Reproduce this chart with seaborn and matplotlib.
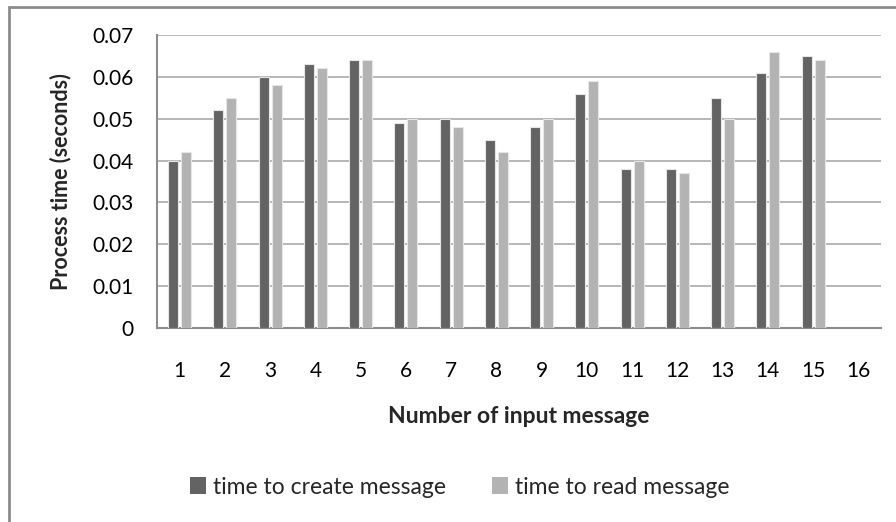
import pandas as pd
import matplotlib.pyplot as plt
import seaborn as sns
from matplotlib.patches import Rectangle

# === Data ===
messages = [str(i) for i in range(1, 17)]
create_time = [0.040, 0.052, 0.060, 0.063, 0.064, 0.049, 0.050, 0.045,
               0.048, 0.056, 0.038, 0.038, 0.055, 0.061, 0.065]
read_time = [0.042, 0.055, 0.058, 0.062, 0.064, 0.050, 0.048, 0.042,
             0.050, 0.059, 0.040, 0.037, 0.050, 0.066, 0.064]
series_names = ['time to create message', 'time to read message']
y_ticks = [0, 0.01, 0.02, 0.03, 0.04, 0.05, 0.06, 0.07]

# long-form frame for seaborn (message 16 has no measurement)
df = pd.DataFrame({
    'message': messages[:15] * 2,
    'time': create_time + read_time,
    'series': [series_names[0]] * 15 + [series_names[1]] * 15,
})

colors = ['#636363', '#b3b3b3']

sns.set_style('white')
plt.rcParams['font.family'] = ['Lato', 'DejaVu Sans']

fig = plt.figure(figsize=(8.96, 5.22), dpi=100)
ax = fig.add_axes([157 / 896, 1 - 328 / 522, (881 - 157) / 896, (328 - 35) / 522])

sns.barplot(data=df, x='message', y='time', hue='series', order=messages,
            hue_order=series_names, palette=colors, width=0.575, gap=0.23,
            edgecolor='#e6e6e6', linewidth=0.8, errorbar=None, ax=ax, zorder=3)

ax.set_ylim(0, 0.07)
ax.set_yticks(y_ticks)
ax.set_yticklabels(['0' if v == 0 else f'{v:.2f}' for v in y_ticks])
ax.yaxis.grid(True, color='#a3a3a3', linewidth=1.1, zorder=0)
ax.set_axisbelow(True)

for side in ['top', 'right']:
    ax.spines[side].set_visible(False)
for side in ['left', 'bottom']:
    ax.spines[side].set_color('#8c8c8c')
    ax.spines[side].set_linewidth(1.5)

ax.tick_params(axis='x', length=0, pad=24, labelsize=15, colors='black')
ax.tick_params(axis='y', length=0, pad=17, labelsize=15, colors='black')

ax.set_xlabel('Number of input message', fontsize=16.5, fontweight='bold', labelpad=18)
ax.set_ylabel('Process time (seconds)', fontsize=15.5, fontweight='bold', labelpad=15)

leg = ax.legend(loc='center', bbox_to_anchor=(460 / 896, 1 - 487 / 522),
                bbox_transform=fig.transFigure, ncol=2, frameon=False,
                fontsize=16.5, handlelength=0.7, handleheight=0.7,
                handletextpad=0.3, columnspacing=2.0)
for h in leg.legend_handles:
    h.set_edgecolor('none')

# outer chart frame (extends past the cropped image edges)
fig.add_artist(Rectangle((9 / 896, -0.2), 2.0, 1 - 7 / 522 + 0.2,
                         transform=fig.transFigure, fill=False,
                         edgecolor='#8c8c8c', linewidth=2))

fig.savefig('out.png', dpi=100)
